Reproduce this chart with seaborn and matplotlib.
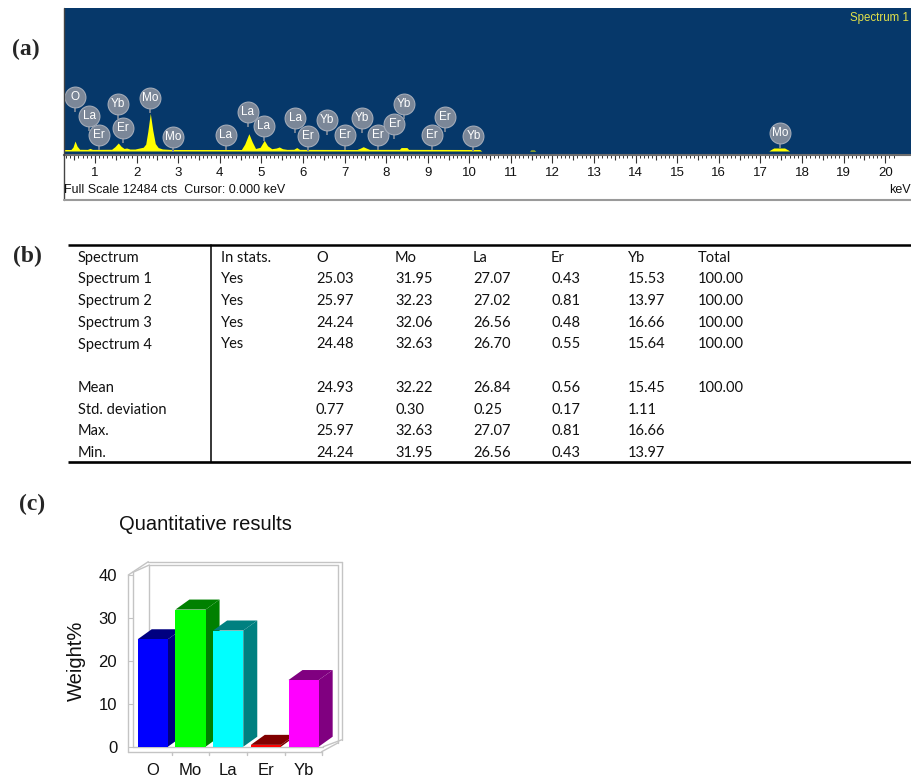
import numpy as np
import matplotlib
matplotlib.use("Agg")
import matplotlib.pyplot as plt
from matplotlib.lines import Line2D
from matplotlib.patches import Polygon
from matplotlib.ticker import FixedLocator
import seaborn as sns

# ---------------- (a) EDS spectrum ----------------
spec_kev = [0.24, 0.42, 0.47, 0.52, 0.57, 0.63, 0.82, 0.88, 0.94, 1.40, 1.48, 1.56,
            1.63, 1.70, 1.76, 1.84, 1.96, 2.06, 2.16, 2.22, 2.27, 2.33, 2.39, 2.45,
            2.52, 2.62, 2.80, 3.00, 4.52, 4.60, 4.70, 4.78, 4.86, 4.97, 5.07, 5.15,
            5.25, 5.36, 5.43, 5.51, 5.62, 5.78, 5.85, 5.92, 7.30, 7.38, 7.45, 7.52,
            7.60, 8.32, 8.36, 8.50, 8.54, 10.25, 10.30, 11.45, 11.48, 11.56, 11.60,
            17.20, 17.25, 17.32, 17.58, 17.66, 17.70, 20.62]
spec_cts = [130, 130, 330, 870, 420, 150, 140, 230, 140, 150, 380, 700,
            400, 220, 260, 170, 170, 250, 330, 600, 1700, 3290, 1800, 650,
            300, 180, 140, 130, 130, 600, 1510, 800, 220, 320, 934, 450,
            200, 260, 350, 200, 140, 150, 300, 140, 130, 250, 375, 260,
            140, 140, 300, 300, 140, 130, 0, 0, 80, 80, 0,
            0, 120, 262, 262, 100, 0, 0]
full_scale = 12484

# peak identification markers
mark_el = ["O", "La", "Er", "Yb", "Er", "Mo", "Mo", "La", "La", "La", "La", "Er",
           "Yb", "Er", "Yb", "Er", "Er", "Yb", "Er", "Er", "Yb", "Mo"]
mark_kev = [0.52, 0.86, 1.10, 1.56, 1.67, 2.32, 2.87, 4.14, 4.67, 5.06, 5.81, 6.11,
            6.57, 7.01, 7.43, 7.81, 8.20, 8.44, 9.10, 9.42, 10.10, 17.47]
mark_cts = [4740, 3055, 1397, 4103, 2034, 4653, 1248, 1397, 3431, 2209, 2855, 1310,
            2706, 1397, 2855, 1397, 2357, 4103, 1397, 2994, 1310, 1598]

# ---------------- (b) quantitative table ----------------
table_cols = ["Spectrum", "In stats.", "O", "Mo", "La", "Er", "Yb", "Total"]
spectra = ["Spectrum 1", "Spectrum 2", "Spectrum 3", "Spectrum 4"]
in_stats = ["Yes", "Yes", "Yes", "Yes"]
wt_O = [25.03, 25.97, 24.24, 24.48]
wt_Mo = [31.95, 32.23, 32.06, 32.63]
wt_La = [27.07, 27.02, 26.56, 26.70]
wt_Er = [0.43, 0.81, 0.48, 0.55]
wt_Yb = [15.53, 13.97, 16.66, 15.64]
wt_total = [100.00, 100.00, 100.00, 100.00]
stat_names = ["Mean", "Std. deviation", "Max.", "Min."]
stat_O = [24.93, 0.77, 25.97, 24.24]
stat_Mo = [32.22, 0.30, 32.63, 31.95]
stat_La = [26.84, 0.25, 27.07, 26.56]
stat_Er = [0.56, 0.17, 0.81, 0.43]
stat_Yb = [15.45, 1.11, 16.66, 13.97]
stat_total = [100.00, None, None, None]

# ---------------- (c) bar chart (Spectrum 1) ----------------
elements = ["O", "Mo", "La", "Er", "Yb"]
weights = [wt_O[0], wt_Mo[0], wt_La[0], wt_Er[0], wt_Yb[0]]
front_colors = ["#0000ff", "#00ff00", "#00ffff", "#ff0000", "#ff00ff"]
shade_colors = ["#000080", "#008000", "#008080", "#800000", "#800080"]

sns.set_theme(style="white")
plt.rcParams["font.family"] = ["Liberation Sans", "DejaVu Sans"]

W, H = 911, 778
fig = plt.figure(figsize=(W / 100, H / 100), dpi=100)


def fx(px):
    return px / W


def fy(py):
    return 1 - py / H


# ----- panel (a)
ax_a = fig.add_axes([fx(63.5), fy(155), fx(911) - fx(63.5), fy(8) - fy(155)])
ax_a.set_facecolor("#06386a")
ax_a.fill_between(spec_kev, 0, spec_cts, color="#ffff00", lw=0)
ax_a.set_xlim(0.243, 20.62)
ax_a.set_ylim(-350, full_scale)

marker_color = "#7b8798"
stem = 1300
ax_a.vlines(mark_kev, np.array(mark_cts) - stem, mark_cts, color=marker_color, lw=1.3, zorder=3)
sns.scatterplot(x=mark_kev, y=mark_cts, s=225, color=marker_color, edgecolor="#a3abb8",
                linewidth=0.8, ax=ax_a, zorder=4)
for el, xk, yc in zip(mark_el, mark_kev, mark_cts):
    ax_a.text(xk, yc, el, ha="center", va="center", color="white", fontsize=8.5, zorder=5)

for side in ["top", "right", "left"]:
    ax_a.spines[side].set_visible(False)
ax_a.spines["bottom"].set_color("#6e6e6e")
ax_a.spines["bottom"].set_linewidth(1.5)
ax_a.set_yticks([])
ax_a.xaxis.set_major_locator(FixedLocator(range(1, 21)))
ax_a.xaxis.set_minor_locator(FixedLocator(np.arange(3, 203) / 10))
ax_a.tick_params(axis="x", which="major", bottom=True, direction="out", length=5.8,
                 width=0.8, color="#333333", labelsize=9.5, pad=2.5, labelcolor="#111111")
ax_a.tick_params(axis="x", which="minor", bottom=True, direction="out", length=2.2,
                 width=0.7, color="#333333")
sec = ax_a.secondary_xaxis("bottom")
sec.set_xticks(np.arange(0.5, 20.5, 1.0))
sec.tick_params(axis="x", length=3.6, width=0.8, color="#333333", labelbottom=False)
sec.spines["bottom"].set_visible(False)
ax_a.set_xlabel("")
ax_a.set_ylabel("")

fig.text(fx(850), fy(18), "Spectrum 1", color="#e2e04a", fontsize=8.3, ha="left", va="center")
fig.text(fx(63.5), fy(190), f"Full Scale {full_scale} cts  Cursor: 0.000 keV",
         fontsize=9, ha="left", va="center", color="#111111")
fig.text(fx(889), fy(190), "keV", fontsize=9, ha="left", va="center", color="#111111")
fig.add_artist(Line2D([fx(63.5), fx(63.5)], [fy(8), fy(200)], color="#444444", lw=1.0))
fig.add_artist(Line2D([fx(63.5), 1], [fy(200), fy(200)], color="#9a9a9a", lw=1.5))

# ----- panel labels
for lab, (px, py) in zip(["(a)", "(b)", "(c)"], [(26, 49), (27.5, 256), (32, 504)]):
    fig.text(fx(px), fy(py), lab, family=["Liberation Serif", "DejaVu Serif"],
             weight="bold", fontsize=17, ha="center", va="center")

# ----- panel (b) table
ax_b = fig.add_axes([0, fy(475), 1, fy(235) - fy(475)])
ax_b.set_xlim(0, W)
ax_b.set_ylim(475, 235)
ax_b.axis("off")

rows = [table_cols]
for i in range(4):
    rows.append([spectra[i], in_stats[i], f"{wt_O[i]:.2f}", f"{wt_Mo[i]:.2f}",
                 f"{wt_La[i]:.2f}", f"{wt_Er[i]:.2f}", f"{wt_Yb[i]:.2f}", f"{wt_total[i]:.2f}"])
rows.append([""] * 8)
for i in range(4):
    tot = "" if stat_total[i] is None else f"{stat_total[i]:.2f}"
    rows.append([stat_names[i], "", f"{stat_O[i]:.2f}", f"{stat_Mo[i]:.2f}",
                 f"{stat_La[i]:.2f}", f"{stat_Er[i]:.2f}", f"{stat_Yb[i]:.2f}", tot])

col_x = [78, 221, 316, 395, 473, 551, 628, 698]
row_y0, row_dy = 257.7, 21.7
for r, row in enumerate(rows):
    for c, cell in enumerate(row):
        if cell:
            ax_b.text(col_x[c], row_y0 + r * row_dy, cell, ha="left", va="center",
                      fontsize=10.5, family=["Lato", "DejaVu Sans"], color="#111111")
ax_b.plot([68, W], [245, 245], color="black", lw=1.8, solid_capstyle="butt")
ax_b.plot([68, W], [462, 462], color="black", lw=1.9, solid_capstyle="butt")
ax_b.plot([211, 211], [245, 462], color="black", lw=1.1)

# ----- panel (c) pseudo-3D bar chart
ax_c = fig.add_axes([fx(128.3), fy(746.7), fx(321.7) - fx(128.3), fy(575) - fy(746.7)])
sns.barplot(x=elements, y=weights, hue=elements, palette=front_colors, saturation=1,
            width=0.8, legend=False, linewidth=0, ax=ax_c)
ax_c.set_xlim(-0.65, 4.48)
ax_c.set_ylim(0, 40)
for s in ax_c.spines.values():
    s.set_visible(False)

ddx, ddy = 0.371, 2.33
for i, p in enumerate(list(ax_c.patches)):
    x0, w, h = p.get_x(), p.get_width(), p.get_height()
    p.set_zorder(3 + 2 * i)
    side = Polygon([(x0 + w, 0), (x0 + w + ddx, ddy), (x0 + w + ddx, h + ddy), (x0 + w, h)],
                   closed=True, facecolor=shade_colors[i], edgecolor="none", zorder=2 + 2 * i,
                   clip_on=False)
    top = Polygon([(x0, h), (x0 + ddx, h + ddy), (x0 + w + ddx, h + ddy), (x0 + w, h)],
                  closed=True, facecolor=shade_colors[i], edgecolor="none", zorder=2 + 2 * i,
                  clip_on=False)
    ax_c.add_patch(side)
    ax_c.add_patch(top)

# chart walls and floor
frame = "#c4c4c4"
frame_lines = [
    ([-0.65, -0.65], [-1.165, 40.0]),
    ([-0.533, -0.533], [0.0, 40.6]),
    ([-0.65, -0.12], [40.0, 43.1]),
    ([-0.533, -0.093], [40.6, 42.33]),
    ([-0.093, -0.093], [0.93, 42.33]),
    ([-0.12, 5.01], [43.1, 43.1]),
    ([-0.093, 4.92], [42.33, 42.33]),
    ([4.92, 4.92], [0.93, 42.33]),
    ([5.01, 5.01], [1.6, 43.1]),
    ([-0.65, 4.48], [-1.165, -1.165]),
    ([-0.533, 4.52], [0.0, 0.0]),
    ([4.48, 4.92], [-1.165, 0.93]),
    ([4.52, 5.01], [0.0, 1.6]),
]
for xs, ys in frame_lines:
    ax_c.plot(xs, ys, color=frame, lw=1.0, clip_on=False, zorder=1)
for xs in [0.5, 1.5, 2.5, 3.5, 4.48]:
    ax_c.plot([xs, xs], [-1.165, -1.9], color=frame, lw=1.0, clip_on=False, zorder=1)

ax_c.set_yticks([0, 10, 20, 30, 40])
ax_c.tick_params(axis="y", left=True, direction="in", length=3.6, width=0.8, color=frame,
                 labelsize=12, pad=8, labelcolor="#111111")
ax_c.tick_params(axis="x", bottom=False, labelsize=12, pad=5.5, labelcolor="#111111")
ax_c.set_xlabel("")
ax_c.set_ylabel("Weight%", fontsize=14.5, labelpad=9, color="#111111")
fig.text(fx(205), fy(524), "Quantitative results", ha="center", va="center",
         fontsize=14.5, color="#111111")

fig.savefig("out.png", dpi=100)
